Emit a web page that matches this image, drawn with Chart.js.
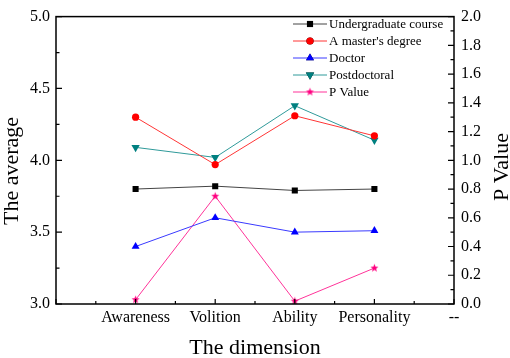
<!DOCTYPE html>
<html>
<head>
<meta charset="utf-8">
<script src="https://cdn.jsdelivr.net/npm/chart.js@4.4.1/dist/chart.umd.min.js"></script>
<style>
  html, body { margin: 0; padding: 0; background: #fff; }
  canvas { display: block; }
</style>
</head>
<body>
<canvas id="chart" width="510" height="358"></canvas>
<script>
// categories (first slot is empty, last one is the "--" placeholder)
const dimensions = ['', 'Awareness', 'Volition', 'Ability', 'Personality', '--'];

// series values, one per real dimension
const undergraduate = [3.80, 3.82, 3.79, 3.80];
const master = [4.30, 3.97, 4.31, 4.17];
const doctor = [3.40, 3.60, 3.50, 3.51];
const postdoctoral = [4.09, 4.02, 4.38, 4.14];
const pValue = [0.03, 0.75, 0.02, 0.25];

// axis ranges and tick steps
const averageRange = [3.0, 5.0];
const averageStep = 0.5;
const pRange = [0.0, 2.0];
const pStep = 0.2;

const SERIF = "'Liberation Serif', 'Times New Roman', serif";

function pad(values) {
  return [null, ...values, null];
}

function starImage(color, r) {
  const c = document.createElement('canvas');
  const s = Math.ceil(r * 2) + 2;
  c.width = c.height = s;
  const g = c.getContext('2d');
  g.fillStyle = color;
  g.beginPath();
  for (let i = 0; i < 10; i++) {
    const rr = i % 2 ? r * 0.42 : r;
    const a = -Math.PI / 2 + i * Math.PI / 5;
    g.lineTo(s / 2 + rr * Math.cos(a), s / 2 + rr * Math.sin(a));
  }
  g.closePath();
  g.fill();
  return c;
}

function series(label, values, lineColor, color, style, radius, axis, rotation) {
  return {
    label,
    data: pad(values),
    yAxisID: axis,
    borderColor: lineColor,
    backgroundColor: color,
    borderWidth: 1,
    pointStyle: style,
    pointRadius: radius,
    pointRotation: rotation || 0,
    pointBorderWidth: 0,
    pointBackgroundColor: color,
    tension: 0,
    spanGaps: false
  };
}

// inward ticks plus the closed frame
const frameAndTicks = {
  id: 'frameAndTicks',
  afterDatasetsDraw(chart) {
    const { ctx, chartArea: a, scales } = chart;
    ctx.save();
    ctx.strokeStyle = '#000';
    ctx.lineWidth = 1.5;
    ctx.strokeRect(a.left, a.top, a.right - a.left, a.bottom - a.top);

    ctx.lineWidth = 1.2;
    ctx.beginPath();
    for (let v = 0; v <= dimensions.length - 1 + 1e-9; v += 0.5) {
      const px = scales.x.getPixelForValue(v);
      const len = Number.isInteger(v) ? 5 : 3;
      ctx.moveTo(px, a.bottom);
      ctx.lineTo(px, a.bottom - len);
    }
    for (let v = averageRange[0]; v <= averageRange[1] + 1e-9; v += averageStep / 2) {
      const py = scales.y.getPixelForValue(v);
      const major = Math.abs(Math.round(v / averageStep) * averageStep - v) < 1e-6;
      ctx.moveTo(a.left, py);
      ctx.lineTo(a.left + (major ? 6 : 3.5), py);
    }
    for (let v = pRange[0]; v <= pRange[1] + 1e-9; v += pStep / 2) {
      const py = scales.y1.getPixelForValue(v);
      const major = Math.abs(Math.round(v / pStep) * pStep - v) < 1e-6;
      ctx.moveTo(a.right, py);
      ctx.lineTo(a.right - (major ? 6 : 3.5), py);
    }
    ctx.stroke();
    ctx.restore();
  }
};

// axis titles (right title reads bottom to top like the left one)
const axisTitles = {
  id: 'axisTitles',
  afterDraw(chart) {
    const { ctx, chartArea: a } = chart;
    ctx.save();
    ctx.fillStyle = '#000';
    ctx.font = '22px ' + SERIF;
    ctx.textAlign = 'center';
    ctx.textBaseline = 'alphabetic';
    ctx.fillText('The dimension', (a.left + a.right) / 2, 354);

    ctx.save();
    ctx.translate(18, 171);
    ctx.rotate(-Math.PI / 2);
    ctx.fillText('The average', 0, 0);
    ctx.restore();

    ctx.save();
    ctx.translate(508, 167);
    ctx.rotate(-Math.PI / 2);
    ctx.fillText('P Value', 0, 0);
    ctx.restore();
    ctx.restore();
  }
};

// legend inside the plot: line sample with marker, then text
const lineLegend = {
  id: 'lineLegend',
  afterDraw(chart) {
    const { ctx } = chart;
    ctx.save();
    ctx.font = '13px ' + SERIF;
    ctx.textAlign = 'left';
    ctx.textBaseline = 'middle';
    chart.data.datasets.forEach((ds, i) => {
      const y = 24 + i * 17;
      ctx.strokeStyle = ds.borderColor;
      ctx.lineWidth = 1;
      ctx.beginPath();
      ctx.moveTo(293, y);
      ctx.lineTo(327, y);
      ctx.stroke();
      Chart.helpers.drawPoint(ctx, {
        pointStyle: ds.pointStyle,
        radius: ds.pointRadius,
        rotation: ds.pointRotation,
        borderWidth: 0
      }, 310, y);
      ctx.fillStyle = ds.pointBackgroundColor;
      ctx.fill();
      ctx.fillStyle = '#000';
      ctx.fillText(ds.label, 329, y + 0.5);
    });
    ctx.restore();
  }
};

const tickFont = { family: SERIF, size: 16 };

new Chart(document.getElementById('chart'), {
  type: 'line',
  data: {
    labels: dimensions,
    datasets: [
      series('Undergraduate course', undergraduate, '#444444', '#000000', 'rect', 4.3, 'y'),
      series("A master's degree", master, '#ff3535', '#ff0000', 'circle', 3.6, 'y'),
      series('Doctor', doctor, '#3a3aff', '#0000ff', 'triangle', 4.6, 'y'),
      series('Postdoctoral', postdoctoral, '#2f9a9a', '#008080', 'triangle', 4.8, 'y', 180),
      series('P Value', pValue, '#ff3399', '#ff0080', starImage('#ff0080', 4.2), 4, 'y1')
    ]
  },
  options: {
    responsive: false,
    animation: false,
    layout: { padding: { top: 9, left: 0, right: 0, bottom: 0 } },
    plugins: {
      legend: { display: false },
      tooltip: { enabled: false }
    },
    scales: {
      x: {
        type: 'category',
        offset: false,
        grid: { display: false, drawTicks: false },
        border: { display: false },
        ticks: { autoSkip: false, maxRotation: 0, padding: 4, color: '#000', font: tickFont },
        afterFit(scale) { scale.height = 54; }
      },
      y: {
        position: 'left',
        min: averageRange[0],
        max: averageRange[1],
        grid: { display: false, drawTicks: false },
        border: { display: false },
        ticks: { stepSize: averageStep, padding: 6, color: '#000', font: tickFont,
                 callback: v => v.toFixed(1) },
        afterFit(scale) { scale.width = 56; }
      },
      y1: {
        position: 'right',
        min: pRange[0],
        max: pRange[1],
        grid: { display: false, drawTicks: false },
        border: { display: false },
        ticks: { stepSize: pStep, padding: 7, color: '#000', font: tickFont,
                 callback: v => v.toFixed(1) },
        afterFit(scale) { scale.width = 56; }
      }
    }
  },
  plugins: [frameAndTicks, axisTitles, lineLegend]
});
</script>
</body>
</html>
